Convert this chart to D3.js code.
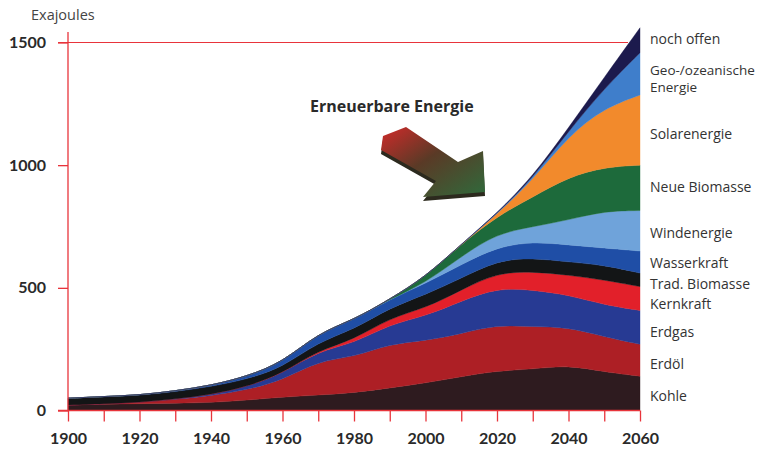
<!DOCTYPE html>
<html>
<head>
<meta charset="utf-8">
<script src="https://cdn.jsdelivr.net/npm/d3@7"></script>
<style>
  body { margin: 0; background: #fff; }
  svg { display: block; font-family: "Open Sans", sans-serif; }
</style>
</head>
<body>
<script>
// Exajoules per decade
var years = [1900, 1910, 1920, 1930, 1940, 1950, 1960, 1970, 1980, 1990, 2000, 2010, 2020, 2030, 2040, 2050, 2060];

var kohle        = [22, 26, 28, 30, 32, 42, 55, 63, 72, 92, 112, 138, 162, 168, 185, 157, 140];
var erdoel       = [0, 2, 5, 15, 28, 42, 68, 140, 145, 180, 172, 175, 188, 173, 155, 143, 130];
var erdgas       = [0, 0, 0, 2, 5, 13, 28, 40, 56, 80, 100, 133, 150, 150, 131, 130, 138];
var kernkraft    = [0, 0, 0, 0, 0, 0, 0, 3, 15, 26, 33, 45, 62, 75, 81, 102, 97];
var tradBiomasse = [28, 28, 28, 30, 32, 30, 24, 34, 42, 41, 55, 48, 50, 56, 53, 61, 55];
var wasserkraft  = [0, 1, 2, 3, 5, 12, 21, 36, 40, 35, 45, 56, 55, 66, 70, 69, 90];
var windenergie  = [0, 0, 0, 0, 0, 0, 0, 0, 0, 0, 3, 33, 55, 61, 102, 151, 165];
var neueBiomasse = [0, 0, 0, 0, 0, 0, 0, 0, 0, 0, 25, 50, 70, 121, 175, 179, 185];
var solar        = [0, 0, 0, 0, 0, 0, 0, 0, 0, 0, 0, 0, 8, 70, 168, 241, 286];
var geoOzean     = [0, 0, 0, 0, 0, 0, 0, 0, 0, 0, 0, 0, 2, 8, 18, 80, 172];
var nochOffen    = [0, 0, 0, 0, 0, 0, 0, 0, 0, 0, 0, 0, 2, 6, 14, 45, 102];

var yTicks = [0, 500, 1000, 1500];
var xTicks = d3.range(1900, 2061, 10);
var xLabels = [1900, 1920, 1940, 1960, 1980, 2000, 2020, 2040, 2060];

var series = [
    {key: "kohle", label: ["Kohle"], values: kohle, fill: "#2e1b1f", ly: 396},
    {key: "erdoel", label: ["Erdöl"], values: erdoel, fill: "#ad1f25", ly: 364},
    {key: "erdgas", label: ["Erdgas"], values: erdgas, fill: "#273a93", ly: 332},
    {key: "kernkraft", label: ["Kernkraft"], values: kernkraft, fill: "#e2202a", ly: 304},
    {key: "trad", label: ["Trad. Biomasse"], values: tradBiomasse, fill: "#131516", ly: 284},
    {key: "wasser", label: ["Wasserkraft"], values: wasserkraft, fill: "#1f4ea6", ly: 263},
    {key: "wind", label: ["Windenergie"], values: windenergie, fill: "#6fa3da", ly: 233},
    {key: "neuebio", label: ["Neue Biomasse"], values: neueBiomasse, fill: "#1d6a3b", ly: 187},
    {key: "solar", label: ["Solarenergie"], values: solar, fill: "#f28a2c", ly: 134},
    {key: "geo", label: ["Geo-/ozeanische", "Energie"], values: geoOzean, fill: "#3f7ecb", ly: 70},
    {key: "offen", label: ["noch offen"], values: nochOffen, fill: "#1c1a4d", ly: 39}
];

var rows = years.map(function(yr, i) {
    var row = {year: yr};
    series.forEach(function(s) { row[s.key] = s.values[i]; });
    return row;
});

var width = 772, height = 449;
var red = "#e8343b";
var ink = "#2a2a2a";

var svg = d3.select("body").append("svg")
    .attr("width", width)
    .attr("height", height);

var x = d3.scaleLinear().domain([1900, 2060]).range([68, 640]);
var y = d3.scaleLinear().domain([0, 1500]).range([410.5, 42.5]);

var stack = d3.stack().keys(series.map(function(s) { return s.key; }));
var layers = stack(rows);

var area = d3.area()
    .curve(d3.curveBasis)
    .x(function(d) { return x(d.data.year); })
    .y0(function(d) { return y(d[0]); })
    .y1(function(d) { return y(d[1]); });

// horizontal 1500 line
svg.append("line")
    .attr("x1", 58).attr("x2", 628)
    .attr("y1", y(1500)).attr("y2", y(1500))
    .attr("stroke", red).attr("stroke-width", 1.2);

svg.append("g").selectAll("path")
    .data(layers)
    .enter()
    .append("path")
    .attr("d", area)
    .attr("fill", function(d, i) { return series[i].fill; })
    .attr("stroke", function(d, i) { return series[i].fill; })
    .attr("stroke-width", 0.4);

// axes
var yAxis = d3.axisLeft(y).tickValues(yTicks).tickSize(10).tickPadding(12)
    .tickFormat(d3.format("d"));
var gy = svg.append("g").attr("transform", "translate(68,0)").call(yAxis);
gy.select(".domain").remove();
gy.append("line").attr("x1", 0).attr("x2", 0).attr("y1", 32).attr("y2", 411)
    .attr("stroke", red).attr("stroke-width", 1.3);

var xAxis = d3.axisBottom(x).tickValues(xTicks).tickSize(11).tickPadding(11)
    .tickFormat(function(d) { return xLabels.indexOf(d) >= 0 ? d : ""; });
var gx = svg.append("g").attr("transform", "translate(0," + y(0) + ")").call(xAxis);
gx.select(".domain").remove();
gx.append("line").attr("x1", 58).attr("x2", 640).attr("y1", 0).attr("y2", 0)
    .attr("stroke", red).attr("stroke-width", 1.3);

[gx, gy].forEach(function(g) {
    g.selectAll(".tick line").attr("stroke", red).attr("stroke-width", 1.3);
    g.selectAll(".tick text")
        .attr("fill", ink)
        .style("font-family", "Lato, sans-serif")
        .style("font-weight", "bold")
        .style("font-size", "16px");
});

svg.append("text")
    .attr("x", 31).attr("y", 20)
    .attr("fill", "#444")
    .style("font-size", "14.5px")
    .text("Exajoules");

// right-hand labels, the two-line one as separate texts
var labels = svg.append("g").attr("fill", "#333").style("font-size", "14px");
series.forEach(function(s) {
    s.label.forEach(function(line, i) {
        labels.append("text")
            .attr("x", 650)
            .attr("y", s.ly + i * 17)
            .attr("dy", "0.35em")
            .style("font-size", s.label.length > 1 ? "13.5px" : null)
            .text(line);
    });
});

// "Erneuerbare Energie" title and arrow
svg.append("text")
    .attr("x", 310).attr("y", 112)
    .attr("fill", ink)
    .style("font-size", "16px")
    .style("font-weight", "bold")
    .text("Erneuerbare Energie");

var defs = svg.append("defs");
var grad = defs.append("linearGradient").attr("id", "arrowGrad")
    .attr("x1", "0%").attr("y1", "0%").attr("x2", "100%").attr("y2", "100%");
grad.append("stop").attr("offset", "0%").attr("stop-color", "#d12a2a");
grad.append("stop").attr("offset", "45%").attr("stop-color", "#5a3a26");
grad.append("stop").attr("offset", "100%").attr("stop-color", "#2f6b3c");

var arrowPts = [[383, 136], [406, 127], [458, 162], [483, 151], [485, 192], [423, 197], [436, 181], [381, 150]];
var line = d3.line();
svg.append("path")
    .attr("d", line(arrowPts.map(function(p) { return [p[0], p[1] + 4]; })) + "Z")
    .attr("fill", "#2c2a1e");
svg.append("path")
    .attr("d", line(arrowPts) + "Z")
    .attr("fill", "url(#arrowGrad)");
</script>
</body>
</html>
